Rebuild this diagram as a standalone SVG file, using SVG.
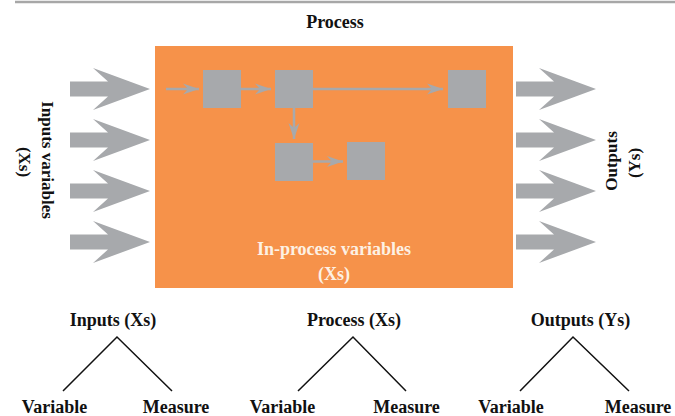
<svg xmlns="http://www.w3.org/2000/svg" width="675" height="416" viewBox="0 0 675 416">
  <style>
    .lbl { font-family: "Liberation Serif", "Times New Roman", serif; font-weight: bold; fill: #111; }
    .inner { font-family: "Liberation Serif", "Times New Roman", serif; font-weight: bold; fill: #fdf1e4; font-size: 18px; }
    .step { fill: #a7a9ac; }
    .flow { stroke: #a7a9ac; stroke-width: 2.5; fill: none; }
    .tree { stroke: #111; stroke-width: 1.5; fill: none; }
    .big { fill: #a7a9ac; }
  </style>
  <defs>
    <!-- wide block arrow used for inputs and outputs -->
    <path id="blockArrow" d="M0,-7.5 H38 L23,-21 L80,0 L23,21 L38,7.5 H0 Z"/>
    <marker id="head" markerUnits="userSpaceOnUse" markerWidth="18" markerHeight="12" refX="16" refY="6" orient="auto">
      <path d="M0,0.5 L16,6 L0,11.5 L5,6 Z" fill="#a7a9ac"/>
    </marker>
  </defs>

  <!-- top rule -->
  <line x1="15" y1="2" x2="675" y2="2" stroke="#a7a7a7" stroke-width="2.5"/>

  <g id="title">
    <text class="lbl" x="335" y="28" font-size="18" text-anchor="middle">Process</text>
  </g>

  <!-- process block -->
  <g id="process">
    <rect x="155" y="46" width="358" height="242" fill="#f6924a"/>
    <text class="inner" x="334" y="255" text-anchor="middle">In-process variables</text>
    <text class="inner" x="334" y="280" text-anchor="middle">(Xs)</text>
  </g>

  <!-- input arrows -->
  <g id="inputs">
    <use href="#blockArrow" class="big" transform="translate(70,89)"/>
    <use href="#blockArrow" class="big" transform="translate(70,140)"/>
    <use href="#blockArrow" class="big" transform="translate(70,191)"/>
    <use href="#blockArrow" class="big" transform="translate(70,242)"/>
    <text class="lbl" font-size="17" text-anchor="middle" transform="translate(41.5,160) rotate(90)">Inputs variables</text>
    <text class="lbl" font-size="17" text-anchor="middle" transform="translate(18.5,162) rotate(90)">(Xs)</text>
  </g>

  <!-- output arrows -->
  <g id="outputs">
    <use href="#blockArrow" class="big" transform="translate(516,89)"/>
    <use href="#blockArrow" class="big" transform="translate(516,140)"/>
    <use href="#blockArrow" class="big" transform="translate(516,191)"/>
    <use href="#blockArrow" class="big" transform="translate(516,242)"/>
    <text class="lbl" font-size="17" text-anchor="middle" transform="translate(616.5,161) rotate(-90)">Outputs</text>
    <text class="lbl" font-size="17" text-anchor="middle" transform="translate(639.5,163) rotate(-90)">(Ys)</text>
  </g>

  <!-- process steps -->
  <g id="step1"><rect class="step" x="203" y="70" width="38" height="38"/></g>
  <g id="step2"><rect class="step" x="275" y="70" width="38" height="38"/></g>
  <g id="step3"><rect class="step" x="448" y="70" width="38" height="38"/></g>
  <g id="step4"><rect class="step" x="275" y="143" width="38" height="38"/></g>
  <g id="step5"><rect class="step" x="347" y="142" width="38" height="38"/></g>

  <g id="connectors">
    <line class="flow" x1="166" y1="89" x2="199" y2="89" marker-end="url(#head)"/>
    <line class="flow" x1="241" y1="89" x2="271" y2="89" marker-end="url(#head)"/>
    <line class="flow" x1="313" y1="89" x2="443" y2="89" marker-end="url(#head)"/>
    <line class="flow" x1="294" y1="108" x2="294" y2="139" marker-end="url(#head)"/>
    <line class="flow" x1="313" y1="161.5" x2="343" y2="161.5" marker-end="url(#head)"/>
  </g>

  <!-- measurement trees -->
  <g id="tree-inputs">
    <text class="lbl" font-size="18" x="113" y="326" text-anchor="middle">Inputs (Xs)</text>
    <polyline class="tree" points="63,391 117,337 172,391"/>
    <text class="lbl" font-size="18" x="54.5" y="413" text-anchor="middle">Variable</text>
    <text class="lbl" font-size="18" x="176" y="413" text-anchor="middle">Measure</text>
  </g>
  <g id="tree-process">
    <text class="lbl" font-size="18" x="354" y="326" text-anchor="middle">Process (Xs)</text>
    <polyline class="tree" points="298,391 353,337 406,391"/>
    <text class="lbl" font-size="18" x="282.5" y="413" text-anchor="middle">Variable</text>
    <text class="lbl" font-size="18" x="406.5" y="413" text-anchor="middle">Measure</text>
  </g>
  <g id="tree-outputs">
    <text class="lbl" font-size="18" x="580.5" y="326" text-anchor="middle">Outputs (Ys)</text>
    <polyline class="tree" points="520,391 573,337 629,391"/>
    <text class="lbl" font-size="18" x="511" y="413" text-anchor="middle">Variable</text>
    <text class="lbl" font-size="18" x="638" y="413" text-anchor="middle">Measure</text>
  </g>
</svg>
